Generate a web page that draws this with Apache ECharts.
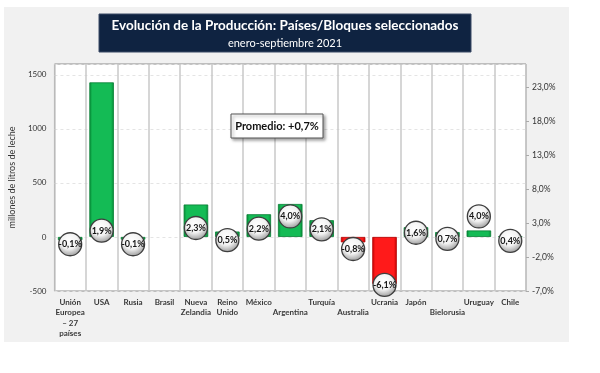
<!DOCTYPE html>
<html><head><meta charset="utf-8">
<script src="https://cdn.jsdelivr.net/npm/echarts@6/dist/echarts.min.js"></script>
<style>html,body{margin:0;padding:0;background:#fff;}#c{width:600px;height:373px;}</style>
</head><body><div id="c"></div>
<script>
var categories = ['Unión\nEuropea\n– 27\npaíses','USA','Rusia','Brasil','Nueva\nZelandia','Reino\nUnido','México','\nArgentina','Turquía','\nAustralia','Ucrania','Japón','\nBielorusia','Uruguay','Chile'];
var volumeChange = [-30, 1430, -25, null, 300, 50, 210, 305, 155, -50, -435, 90, 45, 60, 7];
var pctChange = [-0.1, 1.9, -0.1, null, 2.3, 0.5, 2.2, 4.0, 2.1, -0.8, -6.1, 1.6, 0.7, 4.0, 0.4];
var leftTicks = {min: -500, max: 1600, interval: 500};
var rightTicks = {min: -7, max: 26.5, interval: 5};
var titleText = 'Evolución de la Producción: Países/Bloques seleccionados';
var subtitleText = 'enero-septiembre 2021';
var averageText = 'Promedio: +0,7%';
var yAxisName = 'millones de litros de leche';

var FONT = 'Lato';
function grad(c1, c2) {
  return {type:'linear', x:0, y:0, x2:1, y2:0, colorStops:[
    {offset:0, color:c2},{offset:0.12, color:c1},{offset:0.88, color:c1},{offset:1, color:c2}]};
}
var green = grad('#14bb55', '#068a36');
var red = grad('#ff1a1a', '#c00000');
function fmtPct(v){ return v.toFixed(1).replace('.', ',') + '%'; }

var chart = echarts.init(document.getElementById('c'));
chart.setOption({
  animation: false,
  textStyle: {fontFamily: FONT},
  graphic: [
    {type:'rect', z:-10, silent:true, shape:{x:4, y:7, width:565, height:335}, style:{fill:'#f1f1f1'}},
    {type:'rect', z:10, shape:{x:99, y:14, width:372, height:38}, style:{fill:'#0f2341', stroke:'#3a4a66', lineWidth:1}},
    {type:'text', z:11, x:285, y:26, style:{text:titleText, fill:'#fff', font:'bold 13.5px ' + FONT, align:'center', verticalAlign:'middle'}},
    {type:'text', z:11, x:285, y:43, style:{text:subtitleText, fill:'#fff', font:'11px ' + FONT, align:'center', verticalAlign:'middle'}},
    {type:'rect', z:20, shape:{x:231, y:114, width:92, height:24}, style:{fill:'#fff', stroke:'#555', lineWidth:1, shadowBlur:3, shadowOffsetX:2, shadowOffsetY:2, shadowColor:'rgba(0,0,0,0.35)'}},
    {type:'text', z:21, x:277, y:126, style:{text:averageText, fill:'#111', font:'bold 11px ' + FONT, align:'center', verticalAlign:'middle'}}
  ],
  grid: {left:46, right:74, top:64, bottom:82, show:true, backgroundColor:'#fff', borderColor:'#8a8a8a', borderWidth:1},
  xAxis: {
    type:'category', data:categories,
    axisLine:{show:false}, axisTick:{show:false},
    splitLine:{show:true, lineStyle:{color:'#c9c9c9', width:1.5}},
    axisLabel:{interval:0, fontSize:8, fontWeight:'bold', color:'#3a3a3a', lineHeight:10.5, margin:6, verticalAlign:'top'}
  },
  yAxis: [
    {type:'value', min:leftTicks.min, max:leftTicks.max, interval:leftTicks.interval,
     name:yAxisName, nameLocation:'middle', nameGap:30, nameRotate:90,
     nameTextStyle:{fontSize:9, color:'#333'},
     axisLine:{show:false}, axisTick:{show:false},
     axisLabel:{showMaxLabel:false, fontSize:8, color:'#333', margin:8, formatter:function(v){return String(v);}},
     splitLine:{show:true, lineStyle:{color:'#e4e4e4', type:[3,3], width:1}}},
    {type:'value', min:rightTicks.min, max:rightTicks.max, interval:rightTicks.interval, position:'right',
     axisLine:{show:false}, axisTick:{show:true, length:3, inside:false, lineStyle:{color:'#aaa'}},
     axisLabel:{showMaxLabel:false, fontSize:8.5, color:'#333', margin:6, formatter:function(v){return fmtPct(v);}},
     splitLine:{show:false}}
  ],
  series: [
    {type:'bar', yAxisIndex:0, barWidth:'78%',
     data: volumeChange.map(function(v){ return v === null ? null : {value:v, itemStyle:{color: v < -40 ? red : green, borderColor: v < -40 ? '#b00000' : '#067d33', borderWidth:0.8}}; })},
    {type:'scatter', yAxisIndex:1, symbol:'circle', symbolSize:23, z:5,
     itemStyle:{opacity:1, color:{type:'radial', x:0.45, y:0.35, r:0.7, colorStops:[{offset:0, color:'#ffffff'},{offset:0.5, color:'#f2f2f2'},{offset:1, color:'#8c8c8c'}]}, borderColor:'#3e3e3e', borderWidth:1.3},
     label:{show:true, position:'inside', fontSize:9, fontWeight:'bold', color:'#151515', formatter:function(p){return fmtPct(p.value[1]);}},
     data: pctChange.map(function(v, i){ return v === null ? null : [i, v]; })}
  ]
});
</script></body></html>
